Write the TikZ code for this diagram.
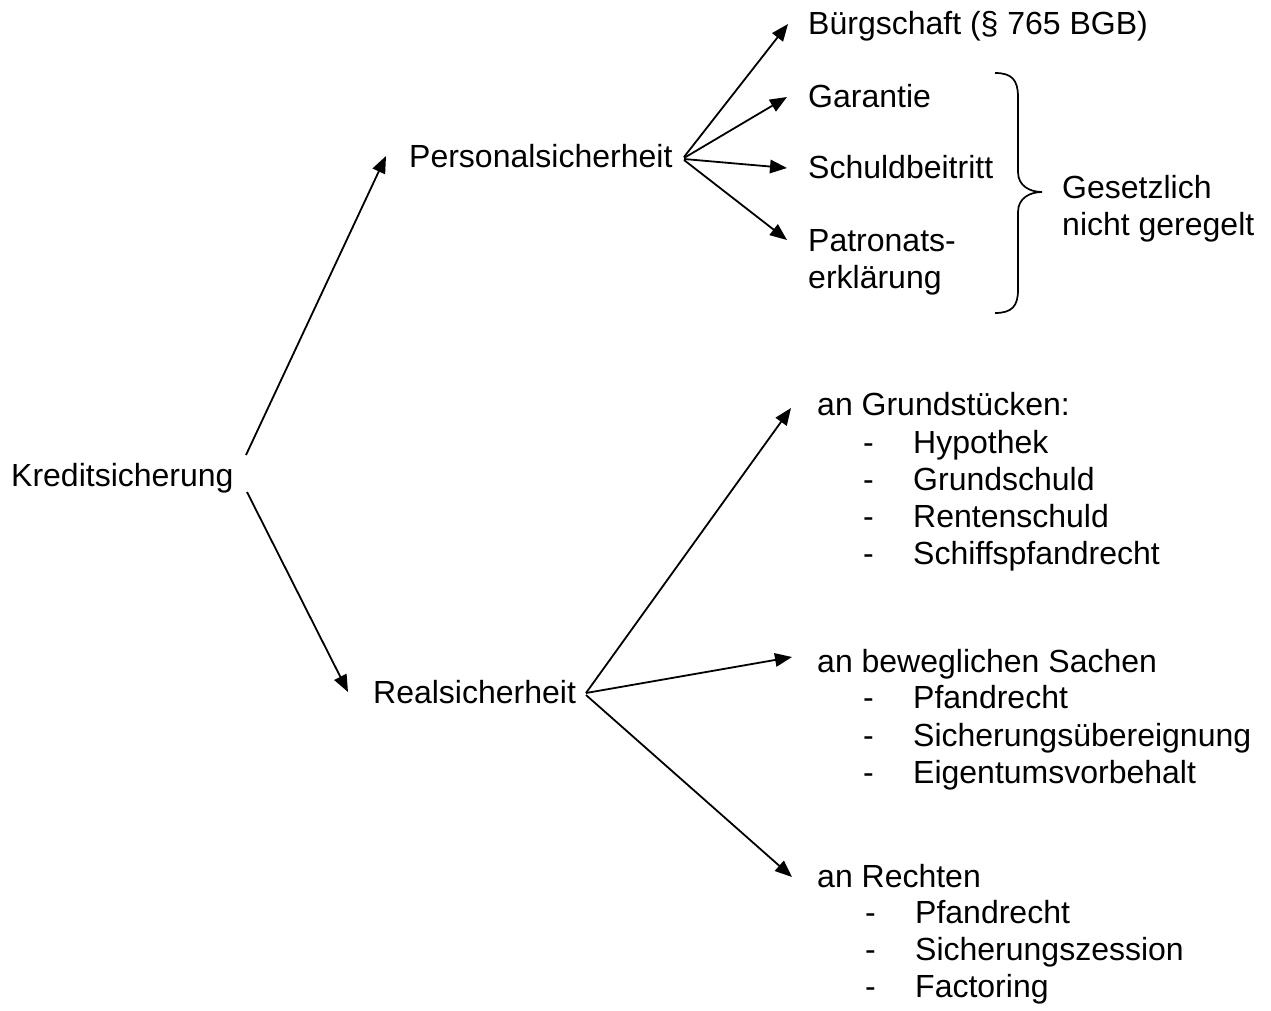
\documentclass[tikz,border=0pt]{standalone}
\usepackage{fontspec}
\setmainfont{Liberation Sans}
\usetikzlibrary{arrows.meta}
\begin{document}
\begin{tikzpicture}[x=1pt,y=-1pt,
  txt/.style={inner sep=0pt,anchor=base west,font=\fontsize{32}{37}\selectfont},
  arr/.style={line width=1.8pt,-{Triangle[length=17pt,width=13.5pt]}},
  brc/.style={line width=1.7pt}]
\useasboundingbox (0,0) rectangle (1271,1010);
% main nodes
\node[txt] (kred) at (11,486) {Kreditsicherung};
\node[txt] (pers) at (409,167) {Personalsicherheit};
\node[txt] (real) at (373,703) {Realsicherheit};
% personal branch
\node[txt] (buerg) at (808,34) {Bürgschaft (§ 765 BGB)};
\node[txt] (gar) at (808,107) {Garantie};
\node[txt] (schuld) at (808,178) {Schuldbeitritt};
\node[txt] (patrA) at (808,251) {Patronats-};
\node[txt] (patrB) at (808,288) {erklärung};
\node[txt] (ges1) at (1062,198) {Gesetzlich};
\node[txt] (ges2) at (1062,235) {nicht geregelt};
% real branch
\node[txt] (grund) at (817,415) {an Grundstücken:};
\node[txt] (gd1) at (863,453) {-}; \node[txt] (g1) at (913,453) {Hypothek};
\node[txt] (gd2) at (863,490) {-}; \node[txt] (g2) at (913,490) {Grundschuld};
\node[txt] (gd3) at (863,527) {-}; \node[txt] (g3) at (913,527) {Rentenschuld};
\node[txt] (gd4) at (863,564) {-}; \node[txt] (g4) at (913,564) {Schiffspfandrecht};
\node[txt] (bew) at (817,672) {an beweglichen Sachen};
\node[txt] (bd1) at (863,708) {-}; \node[txt] (b1) at (913,708) {Pfandrecht};
\node[txt] (bd2) at (863,746) {-}; \node[txt] (b2) at (913,746) {Sicherungsübereignung};
\node[txt] (bd3) at (863,783) {-}; \node[txt] (b3) at (913,783) {Eigentumsvorbehalt};
\node[txt] (recht) at (817,887) {an Rechten};
\node[txt] (rd1) at (865,923) {-}; \node[txt] (r1) at (915,923) {Pfandrecht};
\node[txt] (rd2) at (865,960) {-}; \node[txt] (r2) at (915,960) {Sicherungszession};
\node[txt] (rd3) at (865,997) {-}; \node[txt] (r3) at (915,997) {Factoring};
% connector end points
\coordinate (kUp) at (246,455);
\coordinate (kDn) at (247,492);
\coordinate (persIn) at (386,156);
\coordinate (realIn) at (348,692);
\coordinate (pHub1) at (684,157);
\coordinate (pHub2) at (684,158);
\coordinate (pHub3) at (684,159);
\coordinate (pHub4) at (684,160);
\coordinate (buergIn) at (788,24);
\coordinate (garIn) at (787,97);
\coordinate (schuldIn) at (787,168);
\coordinate (patrIn) at (787,240);
\coordinate (rHub1) at (586,693);
\coordinate (rHub2) at (586,695);
\coordinate (grundIn) at (791,408);
\coordinate (bewIn) at (792,657);
\coordinate (rechtIn) at (792,877);
% connectors
\draw[arr] (kUp) -- (persIn);
\draw[arr] (kDn) -- (realIn);
\draw[arr] (pHub1) -- (buergIn);
\draw[arr] (pHub2) -- (garIn);
\draw[arr] (pHub3) -- (schuldIn);
\draw[arr] (pHub4) -- (patrIn);
\draw[arr] (rHub1) -- (grundIn);
\draw[arr] (rHub1) -- (bewIn);
\draw[arr] (rHub2) -- (rechtIn);
% brace
\draw[brc] (995,73) .. controls (1012,73) and (1018,80) .. (1018,97)
  -- (1018,172) .. controls (1018,186) and (1030,192) .. (1042,192)
  .. controls (1030,192) and (1018,198) .. (1018,212)
  -- (1018,290) .. controls (1018,306) and (1012,313) .. (995,313);
\end{tikzpicture}
\end{document}
